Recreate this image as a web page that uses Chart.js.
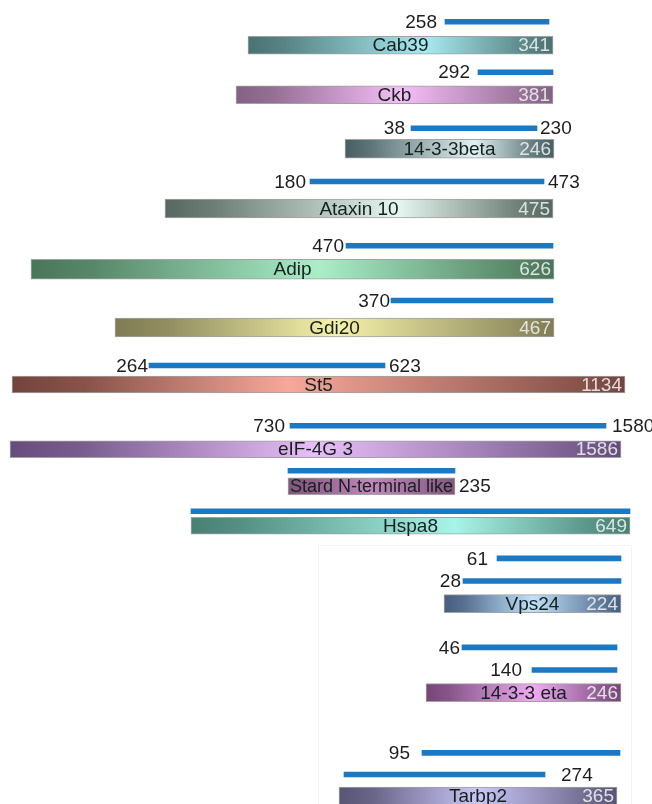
<!DOCTYPE html>
<html>
<head>
<meta charset="utf-8">
<script src="https://cdn.jsdelivr.net/npm/chart.js@4.4.1/dist/chart.umd.min.js"></script>
<style>
  html, body { margin: 0; padding: 0; background: #ffffff; }
  #stage { position: relative; width: 652px; height: 804px; overflow: hidden; background: #ffffff; }
  #stage canvas { position: absolute; left: 0; }
  .panel { position: absolute; border: 1px solid #f3f3f3; box-sizing: border-box; }
</style>
</head>
<body>
<div id="stage">
  <div class="panel" style="left:318px; top:545px; width:314px; height:270px;"></div>
</div>
<script>
// Full-length proteins and their lengths (amino acids)
const proteins = ['Cab39', 'Ckb', '14-3-3beta', 'Ataxin 10', 'Adip', 'Gdi20', 'St5', 'eIF-4G 3',
                  'Stard N-terminal like', 'Hspa8', 'Vps24', '14-3-3 eta', 'Tarbp2'];
const proteinLength = [341, 381, 246, 475, 626, 467, 1134, 1586, 235, 649, 224, 246, 365];

// Interacting fragments: owning protein (index into proteins), first and last residue
const fragmentProtein = [0, 1, 2, 3, 4, 5, 6, 7, 8, 9, 10, 10, 11, 11, 12, 12];
const fragmentStart   = [258, 292, 38, 180, 470, 370, 264, 730, 1, 1, 61, 28, 46, 140, 95, 1];
const fragmentEnd     = [341, 381, 230, 473, 626, 467, 623, 1580, 235, 649, 224, 224, 246, 246, 365, 274];

// Page layout of each protein track: horizontal span of the bar, span of each fragment
// line with the gaps before/after its residue labels, vertical position of the first
// row, row spacing and bar shading.
const layout = [
  { bar: [248, 553], frags: [[445, 549, 8, 4]], y: 21.5, gap: 23.5, thick: 18, dark: '#4a7272', light: '#a8eaf0', at: 0.58 },
  { bar: [236, 553], frags: [[478, 553, 8, 4]], y: 72.5, gap: 22.5, thick: 18, dark: '#846284', light: '#f6bef8', at: 0.52 },
  { bar: [345, 554], frags: [[411, 537, 6, 3]], y: 128, gap: 20.5, thick: 19, dark: '#465e62', light: '#e0f2f2', at: 0.62 },
  { bar: [165, 553], frags: [[310, 544, 4, 4]], y: 181, gap: 27, thick: 19, dark: '#56685f', light: '#e6f6f0', at: 0.6 },
  { bar: [31, 554],  frags: [[346, 553, 2, 4]], y: 246, gap: 23.5, thick: 20, dark: '#4a7658', light: '#aaeec8', at: 0.55 },
  { bar: [115, 554], frags: [[391, 553, 1, 4]], y: 300, gap: 27, thick: 19, dark: '#807c54', light: '#f6f2aa', at: 0.5 },
  { bar: [12, 625],  frags: [[149, 385, 1, 4]], y: 365.5, gap: 19, thick: 17, dark: '#74443c', light: '#f6a89a', at: 0.45 },
  { bar: [10, 621],  frags: [[290, 606, 5, 6]], y: 426, gap: 23.5, thick: 17, dark: '#664c7c', light: '#e8bef8', at: 0.5 },
  { bar: [288, 455], frags: [[288, 455, 5, 4]], y: 471, gap: 15.5, thick: 17, dark: '#84567f', light: '#c088bb', at: 0.5, lengthOutside: true, nameFont: 18 },
  { bar: [191, 630], frags: [[191, 630, 5, 4]], y: 511, gap: 14.5, thick: 17, dark: '#488074', light: '#a8f4e8', at: 0.6 },
  { bar: [444, 621], frags: [[497, 621, 9, 4], [463, 621, 2, 4]], y: 558.5, gap: 22.8, thick: 18, dark: '#465e80', light: '#bfe2fa', at: 0.5 },
  { bar: [426, 621], frags: [[462, 617, 2, 4], [532, 617, 10, 4]], y: 647, gap: 22.5, thick: 18, dark: '#764678', light: '#f0acf2', at: 0.55 },
  { bar: [339, 617], frags: [[422, 620, 12, 4], [344, 545, 5, 16]], y: 753, gap: 21.5, thick: 18, dark: '#585474', light: '#cac6f6', at: 0.5 }
];

const WIDTH = 652;
const PAD = 16;
const LINE_BLUE = '#1b78c2';
const TEXT_DARK = '#1e1e1e';
const FONT_FAMILY = '"Liberation Sans", Arial, sans-serif';

// Linear axis range so that value a lands on pixel pa and value b on pixel pb
function axisRange(a, b, pa, pb) {
  const k = (pb - pa) / (b - a);
  return { min: a - pa / k, max: a + (WIDTH - pa) / k };
}

function mix(hexA, hexB, t) {
  const pa = [1, 3, 5].map((i) => parseInt(hexA.substr(i, 2), 16));
  const pb = [1, 3, 5].map((i) => parseInt(hexB.substr(i, 2), 16));
  return 'rgb(' + pa.map((v, i) => Math.round(v + (pb[i] - v) * t)).join(',') + ')';
}

const stage = document.getElementById('stage');

proteins.forEach((name, p) => {
  const L = layout[p];
  const len = proteinLength[p];
  const frags = [];
  fragmentProtein.forEach((owner, i) => { if (owner === p) frags.push(i); });

  const rowLabels = frags.map((i) => 'fragment ' + fragmentStart[i] + '-' + fragmentEnd[i]).concat([name]);
  const nRows = rowLabels.length;

  const scales = {
    y: { type: 'category', display: false, offset: true },
    xp: Object.assign({ type: 'linear', display: false }, axisRange(0, len, L.bar[0], L.bar[1]))
  };

  const canvas = document.createElement('canvas');
  const h = Math.round(nRows * L.gap + 2 * PAD);
  canvas.width = WIDTH;
  canvas.height = h;
  canvas.style.width = WIDTH + 'px';
  canvas.style.height = h + 'px';
  canvas.style.top = (L.y - L.gap / 2 - PAD) + 'px';
  stage.appendChild(canvas);

  const shade = (c) => {
    const chart = c.chart;
    const s = chart.scales.xp;
    if (!s || !chart.chartArea) return L.dark;
    const x0 = s.getPixelForValue(0), x1 = s.getPixelForValue(len);
    const g = chart.ctx.createLinearGradient(x0, 0, x1, 0);
    g.addColorStop(0, L.dark);
    g.addColorStop(0.12, mix(L.dark, L.light, 0.15));
    g.addColorStop(L.at, L.light);
    g.addColorStop(0.9, mix(L.dark, L.light, 0.2));
    g.addColorStop(1, L.dark);
    return g;
  };

  // One dataset per fragment line, each on its own residue axis
  const datasets = frags.map((fi, r) => {
    const id = 'xf' + r;
    const span = L.frags[r];
    scales[id] = Object.assign({ type: 'linear', display: false },
      axisRange(fragmentStart[fi], fragmentEnd[fi], span[0], span[1]));
    return {
      label: name + ' ' + fragmentStart[fi] + '-' + fragmentEnd[fi],
      data: rowLabels.map((_, k) => k === r ? [fragmentStart[fi], fragmentEnd[fi]] : null),
      xAxisID: id,
      backgroundColor: LINE_BLUE,
      borderWidth: 0,
      barThickness: 5,
      grouped: false,
      clip: false
    };
  });
  datasets.push({
    label: name,
    data: rowLabels.map((_, k) => k === frags.length ? [0, len] : null),
    xAxisID: 'xp',
    backgroundColor: shade,
    borderColor: 'rgba(70,70,70,0.5)',
    borderWidth: 1,
    borderSkipped: false,
    barThickness: L.thick,
    grouped: false,
    clip: false
  });

  // Residue numbers, protein names and lengths next to / inside the marks
  const labels = {
    id: 'residueLabels',
    afterDatasetsDraw(chart) {
      const ctx = chart.ctx;
      ctx.save();
      ctx.textBaseline = 'middle';
      frags.forEach((fi, r) => {
        const el = chart.getDatasetMeta(r).data[r];
        if (!el) return;
        const { x, base, y } = el.getProps(['x', 'base', 'y'], true);
        const span = L.frags[r];
        ctx.font = '19px ' + FONT_FAMILY;
        ctx.fillStyle = TEXT_DARK;
        if (fragmentStart[fi] > 1) {
          ctx.textAlign = 'right';
          ctx.fillText(String(fragmentStart[fi]), Math.min(x, base) - span[2], y + 1);
        }
        if (fragmentEnd[fi] < len) {
          ctx.textAlign = 'left';
          ctx.fillText(String(fragmentEnd[fi]), Math.max(x, base) + span[3], y + 1);
        }
      });
      const el = chart.getDatasetMeta(frags.length).data[frags.length];
      if (el) {
        const { x, base, y } = el.getProps(['x', 'base', 'y'], true);
        const left = Math.min(x, base), right = Math.max(x, base);
        ctx.font = (L.nameFont || 19) + 'px ' + FONT_FAMILY;
        ctx.fillStyle = '#16201f';
        ctx.textAlign = 'center';
        ctx.fillText(name, (left + right) / 2, y + 1);
        ctx.font = '19px ' + FONT_FAMILY;
        if (L.lengthOutside) {
          ctx.fillStyle = TEXT_DARK;
          ctx.textAlign = 'left';
          ctx.fillText(String(len), right + 4, y + 1);
        } else {
          ctx.fillStyle = 'rgba(234,238,238,0.9)';
          ctx.textAlign = 'right';
          ctx.fillText(String(len), right - 3, y + 1);
        }
      }
      ctx.restore();
    }
  };

  new Chart(canvas, {
    type: 'bar',
    data: { labels: rowLabels, datasets: datasets },
    options: {
      indexAxis: 'y',
      responsive: false,
      animation: false,
      devicePixelRatio: 1,
      layout: { padding: { top: PAD, bottom: PAD, left: 0, right: 0 } },
      scales: scales,
      plugins: { legend: { display: false }, tooltip: { enabled: false } },
      events: []
    },
    plugins: [labels]
  });
});
</script>
</body>
</html>
